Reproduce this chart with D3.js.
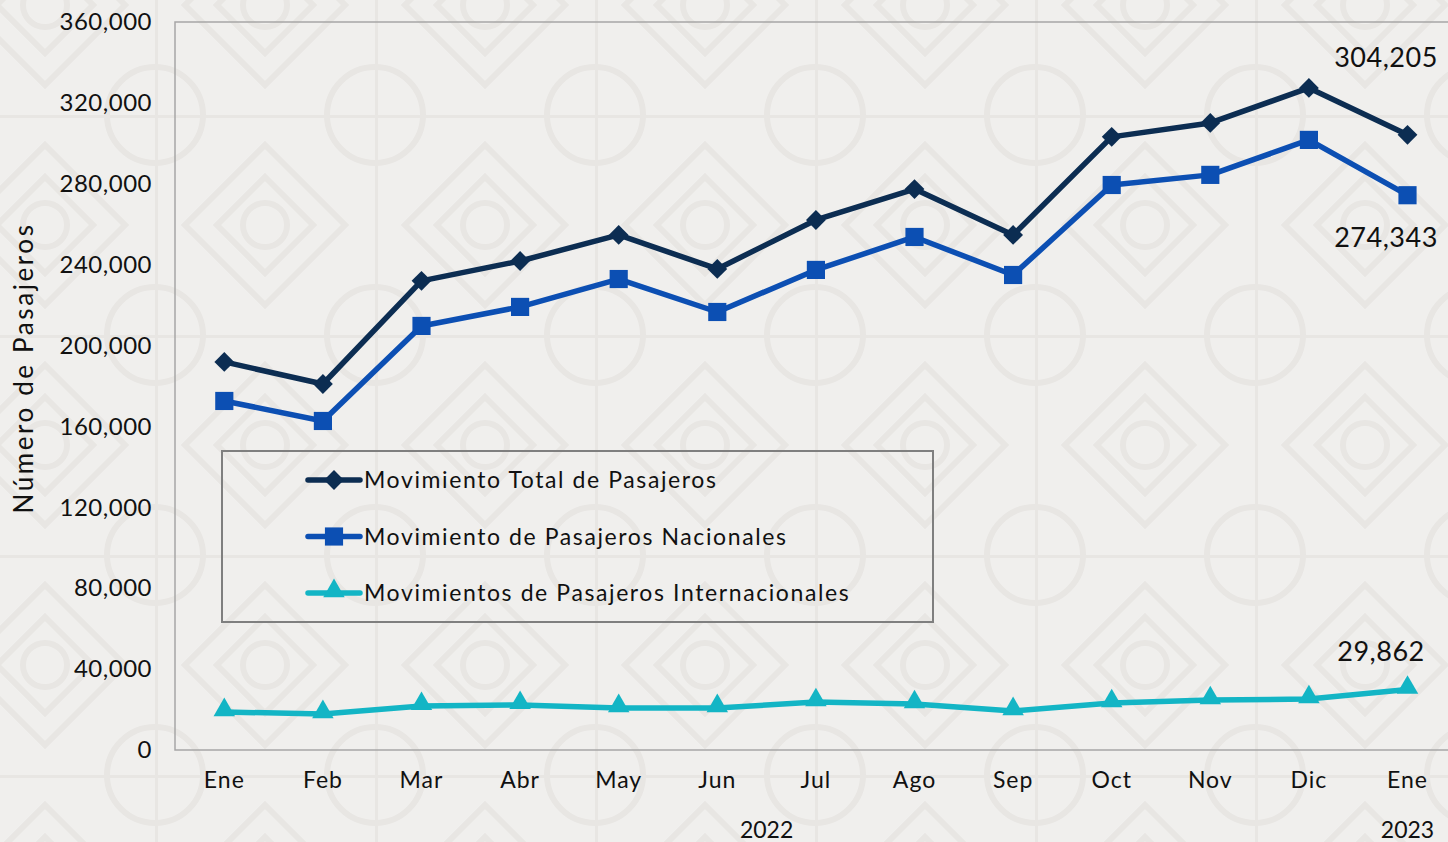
<!DOCTYPE html>
<html>
<head>
<meta charset="utf-8">
<script src="https://cdnjs.cloudflare.com/ajax/libs/d3/7.8.5/d3.min.js"></script>
<style>
  body { margin: 0; background: #f0efed; }
  svg { display: block; }
  text { font-family: Lato, "Noto Sans", sans-serif; fill: #111; }
</style>
</head>
<body>
<div id="chart"></div>
<script>
var width = 1448;
var height = 842;

// data
var months = ["Ene", "Feb", "Mar", "Abr", "May", "Jun", "Jul", "Ago", "Sep", "Oct", "Nov", "Dic", "Ene"];
var total = [191900, 181000, 232000, 241800, 254700, 237900, 262100, 277400, 254700, 303200, 310100, 327400, 304205];
var nacional = [172600, 162700, 209700, 219100, 232900, 216600, 237400, 253700, 234900, 279400, 284400, 301700, 274343];
var internacional = [18800, 17800, 21800, 22300, 20800, 20800, 23700, 22700, 19300, 23200, 24700, 25200, 29862];
var yTicks = [0, 40000, 80000, 120000, 160000, 200000, 240000, 280000, 320000, 360000];
var years = [{label: "2022", from: 0, to: 11}, {label: "2023", from: 12, to: 12}];

var series = [
    {name: "Movimiento Total de Pasajeros", values: total, color: "#0c2d52", marker: "diamond"},
    {name: "Movimiento de Pasajeros Nacionales", values: nacional, color: "#0c4fb3", marker: "square"},
    {name: "Movimientos de Pasajeros Internacionales", values: internacional, color: "#13b5c5", marker: "triangle"}
];

var svg = d3.select("#chart")
    .append("svg")
    .attr("width", width)
    .attr("height", height);

// faint tiled background ornament
var defs = svg.append("defs");
var pat = defs.append("pattern")
    .attr("id", "bgpat")
    .attr("patternUnits", "userSpaceOnUse")
    .attr("x", -65).attr("y", -105)
    .attr("width", 220).attr("height", 220);
var pg = pat.append("g")
    .attr("fill", "none")
    .attr("stroke", "#e8e6e3")
    .attr("stroke-width", 6);
pg.append("circle").attr("cx", 110).attr("cy", 110).attr("r", 22);
pg.append("path").attr("d", "M110,30 L190,110 L110,190 L30,110 Z");
pg.append("path").attr("d", "M110,62 L158,110 L110,158 L62,110 Z");
pg.append("circle").attr("cx", 0).attr("cy", 0).attr("r", 48);
pg.append("circle").attr("cx", 220).attr("cy", 0).attr("r", 48);
pg.append("circle").attr("cx", 0).attr("cy", 220).attr("r", 48);
pg.append("circle").attr("cx", 220).attr("cy", 220).attr("r", 48);
pg.append("line").attr("x1", 0).attr("y1", 0).attr("x2", 220).attr("y2", 0);
pg.append("line").attr("x1", 0).attr("y1", 0).attr("x2", 0).attr("y2", 220);

svg.append("rect")
    .attr("width", width).attr("height", height)
    .attr("fill", "#f0efed");
svg.append("rect")
    .attr("width", width).attr("height", height)
    .attr("fill", "url(#bgpat)");

var plotLeft = 175, plotTop = 22, plotBottom = 750;
var step = 98.6;

var xScale = d3.scaleBand()
    .domain(d3.range(months.length))
    .range([plotLeft, plotLeft + step * months.length]);
var cx = function(i) { return xScale(i) + xScale.bandwidth() / 2; };

var yScale = d3.scaleLinear()
    .domain([0, 360000])
    .range([plotBottom, plotTop]);

// plot frame
svg.append("path")
    .attr("d", "M" + (width + 10) + "," + plotTop + " H" + plotLeft + " V" + plotBottom + " H" + (width + 10))
    .attr("fill", "none")
    .attr("stroke", "#a6a6a6")
    .attr("stroke-width", 1.5);

// y axis
var yAxis = d3.axisLeft(yScale)
    .tickValues(yTicks)
    .tickSize(0)
    .tickPadding(23)
    .tickFormat(d3.format(","));
var gy = svg.append("g")
    .attr("transform", "translate(" + plotLeft + ",0)")
    .call(yAxis);
gy.select(".domain").remove();
gy.selectAll("text")
    .style("font-family", "Lato, sans-serif")
    .style("font-size", "24px")
    .style("letter-spacing", "0.5px")
    .attr("fill", "#111");

// x axis
var xAxis = d3.axisBottom(xScale)
    .tickSize(0)
    .tickPadding(22)
    .tickFormat(function(i) { return months[i]; });
var gx = svg.append("g")
    .attr("transform", "translate(0," + plotBottom + ")")
    .call(xAxis);
gx.select(".domain").remove();
gx.selectAll("text")
    .style("font-family", "Lato, sans-serif")
    .style("font-size", "23px")
    .style("letter-spacing", "1px")
    .attr("fill", "#111");

svg.selectAll(".year")
    .data(years)
    .enter()
    .append("text")
    .attr("class", "year")
    .attr("x", function(d) { return (cx(d.from) + cx(d.to)) / 2; })
    .attr("y", 838)
    .attr("text-anchor", "middle")
    .style("font-size", "23px")
    .text(function(d) { return d.label; });

// y title
svg.append("text")
    .attr("transform", "translate(33,368) rotate(-90)")
    .attr("text-anchor", "middle")
    .style("font-size", "26px")
    .style("letter-spacing", "2.6px")
    .text("Número de Pasajeros");

function markerPath(type) {
    if (type == "diamond") return d3.symbol().type(d3.symbolDiamond2).size(250)();
    if (type == "square") return d3.symbol().type(d3.symbolSquare2).size(420)();
    return d3.symbol().type(d3.symbolTriangle2).size(330)();
}

var line = d3.line()
    .x(function(d, i) { return cx(i); })
    .y(function(d) { return yScale(d); });

series.forEach(function(s) {
    svg.append("path")
        .datum(s.values)
        .attr("d", line)
        .attr("fill", "none")
        .attr("stroke", s.color)
        .attr("stroke-width", 5.5)
        .attr("stroke-linejoin", "round");

    svg.selectAll(".m-" + s.marker)
        .data(s.values)
        .enter()
        .append("path")
        .attr("class", "m-" + s.marker)
        .attr("transform", function(d, i) {
            var dy = s.marker == "triangle" ? -2 : 0;
            return "translate(" + cx(i) + "," + (yScale(d) + dy) + ")";
        })
        .attr("d", markerPath(s.marker))
        .attr("fill", s.color);
});

// end labels
var last = months.length - 1;
var fmt = d3.format(",");
svg.append("text")
    .attr("x", 1386).attr("y", yScale(total[last]) - 68)
    .attr("text-anchor", "middle")
    .style("font-size", "27px")
    .style("letter-spacing", "0.5px")
    .text(fmt(total[last]));
svg.append("text")
    .attr("x", 1386).attr("y", yScale(nacional[last]) + 52)
    .attr("text-anchor", "middle")
    .style("font-size", "27px")
    .style("letter-spacing", "0.5px")
    .text(fmt(nacional[last]));
svg.append("text")
    .attr("x", 1381).attr("y", yScale(internacional[last]) - 29)
    .attr("text-anchor", "middle")
    .style("font-size", "27px")
    .style("letter-spacing", "0.5px")
    .text(fmt(internacional[last]));

// legend
var legend = svg.append("g");
legend.append("rect")
    .attr("x", 222).attr("y", 451)
    .attr("width", 711).attr("height", 171)
    .attr("fill", "none")
    .attr("stroke", "#7f7f7f")
    .attr("stroke-width", 2);

var items = legend.selectAll(".item")
    .data(series)
    .enter()
    .append("g")
    .attr("class", "item")
    .attr("transform", function(d, i) { return "translate(0," + (480 + i * 56.5) + ")"; });
items.append("line")
    .attr("x1", 308).attr("x2", 360)
    .attr("stroke", function(d) { return d.color; })
    .attr("stroke-width", 5.5)
    .attr("stroke-linecap", "round");
items.append("path")
    .attr("transform", function(d) { return "translate(334," + (d.marker == "triangle" ? -2 : 0) + ")"; })
    .attr("d", function(d) { return markerPath(d.marker); })
    .attr("fill", function(d) { return d.color; });
items.append("text")
    .attr("x", 364).attr("y", 8)
    .style("font-size", "23px")
    .style("letter-spacing", "1.6px")
    .text(function(d) { return d.name; });
</script>
</body>
</html>
